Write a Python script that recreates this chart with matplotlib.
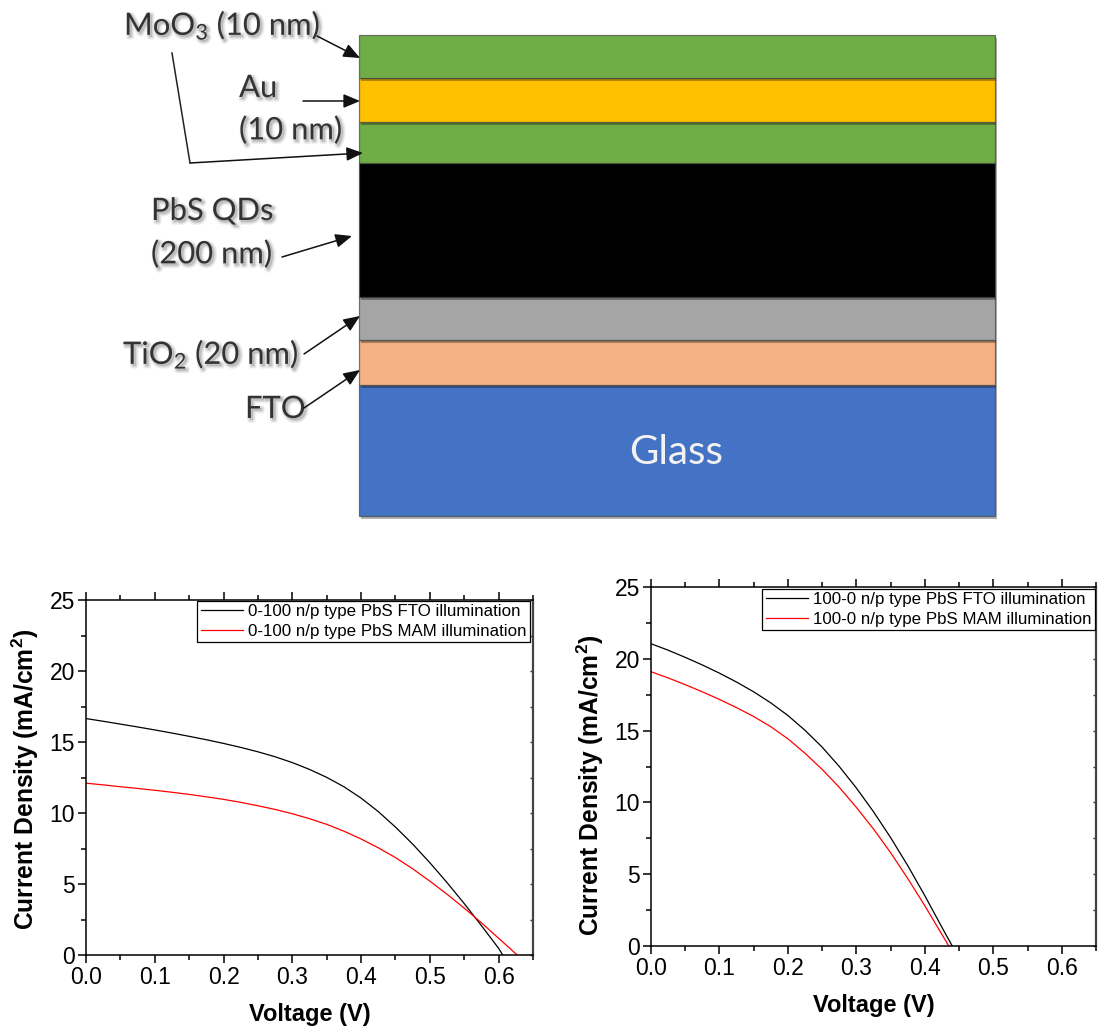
import numpy as np
import matplotlib
matplotlib.use("Agg")
import matplotlib.pyplot as plt
import matplotlib.patheffects as pe
from matplotlib.patches import Rectangle
from matplotlib.ticker import MultipleLocator

plt.rcParams['font.family'] = ['Liberation Sans', 'DejaVu Sans']
plt.rcParams['mathtext.default'] = 'regular'

W, H = 1102, 1032

# device stack, top to bottom (edges in image pixels)
layer_names = ['MoO3', 'Au', 'MoO3', 'PbS', 'TiO2', 'FTO', 'Glass']
layer_edges = [35, 78, 122, 163, 297, 340, 385, 516]
layer_colors = ['#70AD47', '#FFC000', '#70AD47', '#000000', '#A5A5A5', '#F4B183', '#4472C4']

# J-V curves
volt_grid = [0.0, 0.025, 0.05, 0.075, 0.1, 0.125, 0.15, 0.175, 0.2, 0.225, 0.25, 0.275,
             0.3, 0.325, 0.35, 0.375, 0.4, 0.425, 0.45, 0.475, 0.5, 0.525, 0.55, 0.575, 0.6]

v_left_fto = volt_grid + [0.606]
j_left_fto = [16.65, 16.46, 16.26, 16.06, 15.85, 15.63, 15.4, 15.16, 14.9, 14.62, 14.31, 13.96,
              13.55, 13.07, 12.51, 11.85, 11.05, 10.1, 9.01, 7.81, 6.5, 5.1, 3.62, 2.07, 0.47, 0.0]
v_left_mam = volt_grid + [0.627]
j_left_mam = [12.1, 11.98, 11.85, 11.73, 11.6, 11.46, 11.31, 11.14, 10.96, 10.75, 10.51, 10.25,
              9.95, 9.6, 9.2, 8.72, 8.17, 7.55, 6.86, 6.07, 5.2, 4.28, 3.3, 2.27, 1.18, 0.0]

v_right_fto = volt_grid[:18] + [0.44]
j_right_fto = [21.05, 20.6, 20.1, 19.57, 19.0, 18.38, 17.7, 16.93, 16.05, 15.02, 13.85, 12.5,
               11.0, 9.35, 7.55, 5.6, 3.5, 1.3, 0.0]
v_right_mam = volt_grid[:18] + [0.435]
j_right_mam = [19.1, 18.67, 18.2, 17.7, 17.17, 16.6, 15.98, 15.27, 14.43, 13.42, 12.3, 11.05,
               9.65, 8.15, 6.5, 4.7, 2.8, 0.8, 0.0]

left_labels = ['0-100 n/p type PbS FTO illumination', '0-100 n/p type PbS MAM illumination']
right_labels = ['100-0 n/p type PbS FTO illumination', '100-0 n/p type PbS MAM illumination']

fig = plt.figure(figsize=(W / 100, H / 100), dpi=100, facecolor='white')


# axes from a pixel box in image coordinates
def px_axes(x0, y0, x1, y1):
    return fig.add_axes([x0 / W, 1 - y1 / H, (x1 - x0) / W, (y1 - y0) / H])


# soft shadow under the diagram labels
def soft_shadow():
    fx = [pe.Stroke(linewidth=lw, foreground='k', alpha=0.06, offset=(1.5, -1.5)) for lw in (4, 2.5, 1)]
    return fx + [pe.Normal()]


# diagram drawn in image pixels
bg = fig.add_axes([0, 0, 1, 1])
bg.set_xlim(0, W)
bg.set_ylim(H, 0)
bg.axis('off')

for i, c in enumerate(layer_colors):
    top, bot = layer_edges[i], layer_edges[i + 1]
    r = Rectangle((359, top), 636, bot - top, facecolor=c, edgecolor=(0.25, 0.28, 0.25, 0.7), linewidth=0.9,
                  zorder=10 - i)
    r.set_path_effects([pe.SimplePatchShadow(offset=(1.5, -2.5), alpha=0.3, shadow_rgbFace='k'), pe.Normal()])
    bg.add_patch(r)

bg.text(676, 453, 'Glass', color='#f2f2f2', fontsize=29, family='Lato', ha='center', va='center', zorder=20)

labels = [
    ('MoO$_3$ (10 nm)', 124, 25),
    ('Au', 239, 88),
    ('(10 nm)', 239, 130),
    ('PbS QDs', 151, 211),
    ('(200 nm)', 151, 254),
    ('TiO$_2$ (20 nm)', 123, 354),
    ('FTO', 245, 409),
]
for txt, x, y in labels:
    t = bg.text(x, y, txt, fontsize=22.3, family='Lato', color='#333333', ha='left', va='center', zorder=20)
    t.set_path_effects(soft_shadow())

arrows = [
    ((317, 36), (360, 58)),
    ((303, 101), (360, 101)),
    ((190, 163), (363, 153)),
    ((282, 257), (352, 236)),
    ((304, 354), (360, 316)),
    ((304, 408), (360, 370)),
]
for start, end in arrows:
    bg.annotate('', xy=end, xytext=start, zorder=21,
                arrowprops=dict(arrowstyle='-|>,head_length=1.0,head_width=0.42', color='#111111',
                                lw=1.1, shrinkA=0, shrinkB=0))
bg.plot([172, 190], [53, 163], color='#222222', lw=1.1, zorder=21)


# one J-V panel
def jv_panel(box, v_fto, j_fto, v_mam, j_mam, labels, legend_box, label_y):
    ax = px_axes(*box)
    ax.patch.set_alpha(0)
    ax.plot(v_fto, j_fto, color='black', lw=0.9)
    ax.plot(v_mam, j_mam, color='red', lw=0.9)
    curves = ax.get_lines()[:2]
    ax.set_xlim(0, 0.65)
    ax.set_ylim(0, 25)
    ax.xaxis.set_major_locator(MultipleLocator(0.1))
    ax.xaxis.set_minor_locator(MultipleLocator(0.05))
    ax.yaxis.set_major_locator(MultipleLocator(5))
    ax.yaxis.set_minor_locator(MultipleLocator(2.5))
    ax.tick_params(which='both', top=True, right=False, direction='out', width=1.1)
    ax.tick_params(which='major', length=6, labelsize=16.5, pad=2)
    ax.tick_params(which='minor', length=3.5)
    # right side ticks are short and point inward
    for y in ax.get_yticks().tolist() + ax.get_yticks(minor=True).tolist():
        if 0 <= y <= 25:
            ax.plot([1], [y], transform=ax.get_yaxis_transform(), marker=0, ms=2.5, mew=1.0,
                    color='#333333', clip_on=False)
    ax.set_xlim(0, 0.65)
    ax.set_ylim(0, 25)
    for s in ax.spines.values():
        s.set_linewidth(1.1)
    ax.spines['right'].set_linewidth(1.6)
    ax.spines['right'].set_color('#444444')
    ax.set_xlabel('Voltage (V)', fontsize=17, fontweight='bold', labelpad=10)
    ax.set_ylabel('Current Density (mA/cm$^2$)', fontsize=17.7, fontweight='bold', labelpad=6, y=label_y)
    leg = ax.legend(curves, labels, loc='upper right', bbox_to_anchor=legend_box,
                    bbox_transform=fig.transFigure,
                    fontsize=12.2, frameon=True, fancybox=False, framealpha=1, edgecolor='black',
                    borderpad=0.2, labelspacing=0.25, handlelength=2.5, handletextpad=0.3,
                    borderaxespad=0)
    leg.get_frame().set_linewidth(0.9)
    return ax


jv_panel((86, 600, 533, 955), v_left_fto, j_left_fto, v_left_mam, j_left_mam, left_labels,
         (530 / W, 1 - 601 / H), 0.495)
jv_panel((651, 587, 1096, 946), v_right_fto, j_right_fto, v_right_mam, j_right_mam, right_labels,
         (1095 / W, 1 - 589 / H), 0.447)

fig.savefig('out.png', dpi=100)
